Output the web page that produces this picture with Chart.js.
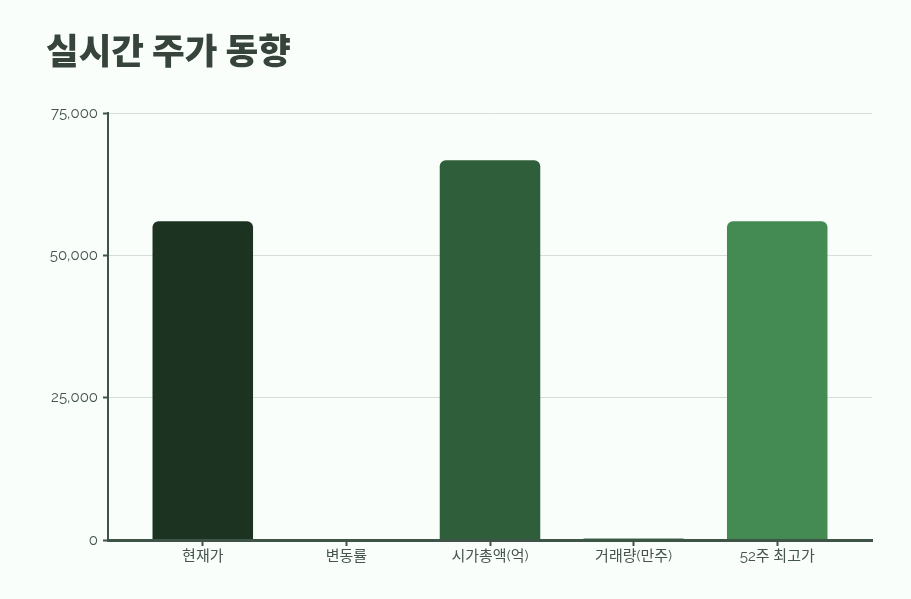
<!DOCTYPE html>
<html><head><meta charset="utf-8">
<script src="https://cdn.jsdelivr.net/npm/chart.js@4"></script>
<style>
html,body{margin:0;padding:0;background:#fafefa;}
#wrap{position:absolute;left:0;top:0;width:911px;height:599px;}
#title{position:absolute;left:46px;top:31px;margin:0;font:900 35.5px 'Noto Sans CJK KR','Noto Sans',sans-serif;line-height:1;color:#36443b;white-space:nowrap;}
</style></head>
<body>
<div id="wrap"><canvas id="c"></canvas></div>
<h1 id="title">실시간 주가 동향</h1>
<script>
const categories = ['현재가', '변동률', '시가총액(억)', '거래량(만주)', '52주 최고가'];
const values = [56000, 1.8, 66700, 250, 56000];
const barColors = ['#1b3320', '#24482b', '#2e5e3a', '#3a7548', '#448b53'];
const yTicks = [0, 25000, 50000, 75000];

const tickFont = {family: "Raleway, 'Noto Sans CJK KR', sans-serif", size: 15};
const textColor = '#45554b';
const axisColor = '#3d5446';

new Chart(document.getElementById('c'), {
  type: 'bar',
  data: {
    labels: categories,
    datasets: [{
      data: values,
      backgroundColor: barColors,
      borderRadius: 6,
      borderSkipped: 'bottom',
      categoryPercentage: 0.875,
      barPercentage: 0.8
    }]
  },
  options: {
    responsive: true,
    maintainAspectRatio: false,
    animation: false,
    layout: {padding: {top: 113, right: 39, bottom: 0, left: 0}},
    plugins: {legend: {display: false}, tooltip: {enabled: false}, title: {display: false}},
    scales: {
      x: {
        offset: true,
        afterBuildTicks: (s) => { s._valueRange += 0.32; s._startValue -= 0.16; },
        afterFit: (s) => { s.height = 59; },
        grid: {offset: false, drawOnChartArea: false, drawTicks: true, tickLength: 6, tickWidth: 2, tickColor: axisColor},
        border: {display: true, color: axisColor, width: 3, z: 1},
        ticks: {font: tickFont, color: textColor, padding: 1, maxRotation: 0}
      },
      y: {
        min: 0, max: 75000,
        afterBuildTicks: (s) => { s.ticks = yTicks.map(v => ({value: v})); },
        afterFit: (s) => { s.width = 108; },
        grid: {color: '#d6ddd8', lineWidth: 1, drawTicks: true, tickLength: 5, tickWidth: 2, tickColor: axisColor},
        border: {display: true, color: axisColor, width: 2},
        ticks: {font: tickFont, color: textColor, padding: 5,
          callback: (v) => v.toLocaleString('en-US')}
      }
    }
  }
});
</script>
</body></html>
